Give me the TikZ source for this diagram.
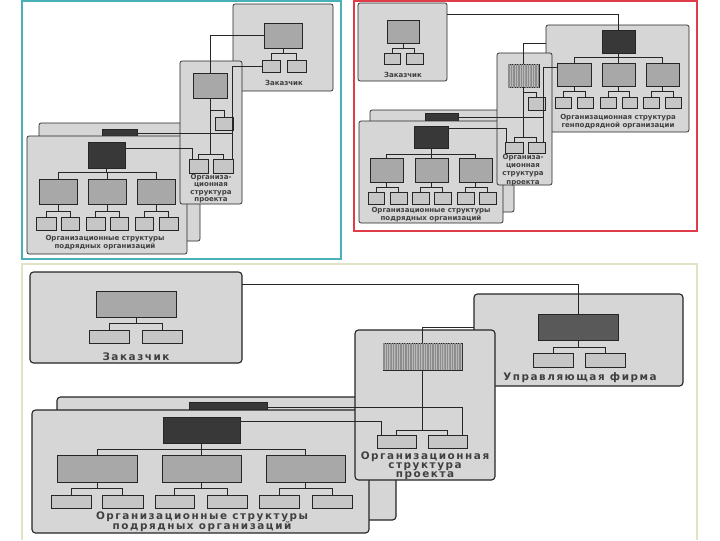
\documentclass[tikz,border=0pt]{standalone}
\usepackage{fontspec}
\usetikzlibrary{patterns.meta}

\newfontfamily\lblfont{DejaVu Sans}
\newfontfamily\widefont{DejaVu Sans}[LetterSpace=15]

\definecolor{boxgray}{HTML}{D6D6D6}
\definecolor{midgray}{HTML}{A8A8A8}
\definecolor{leafgray}{HTML}{C6C6C6}
\definecolor{inkgray}{HTML}{383838}
\definecolor{frameteal}{HTML}{4AB0B8}
\definecolor{framered}{HTML}{E03C4B}
\definecolor{framepale}{HTML}{E2E2C4}

\tikzset{
  pane/.style={draw=black!85, fill=boxgray, rounded corners=1.5pt, line width=0.5pt, inner sep=0pt, outer sep=0pt},
  blk/.style={draw=black!85, line width=0.45pt, inner sep=0pt, outer sep=0pt},
  midblk/.style={blk, fill=midgray},
  leafblk/.style={blk, fill=leafgray},
  darkblk/.style={blk, fill=inkgray},
  hatchblk/.style={blk, fill=gray!55, postaction={pattern={Lines[angle=90,distance=1.2pt,line width=0.35pt]}, pattern color=black!45}},
  link/.style={draw=black!85, line width=0.45pt},
  pane3/.style={pane, line width=0.8pt, rounded corners=2.5pt},
  blk3/.style={line width=0.7pt},
  link3/.style={link, line width=0.6pt},
  lbl/.style={font=\lblfont\bfseries\fontsize{5}{5.8}\selectfont, text=black!75, align=center, inner sep=0pt},
  lbl3/.style={font=\widefont\bfseries\fontsize{7.4}{7.3}\selectfont, text=black!75, align=center, inner sep=0pt}
}

% block from its corners: name, style, x1, y1, x2, y2
\newcommand{\blk}[6]{\node[#2, minimum width={(#5-#3)*0.025cm}, minimum height={(#6-#4)*0.025cm}] (#1) at ({(#3+#5)/2},{(#4+#6)/2}) {};}

\begin{document}
\begin{tikzpicture}[x=0.025cm, y=-0.025cm]

\useasboundingbox[fill=white] (0,0) rectangle (720,540);

% ---- top left ----
\draw[frameteal, line width=1.2pt] (22,1) rectangle (341,259);

\blk{s1back}{pane}{39}{123}{200}{241}
\blk{s1bk}{darkblk}{102}{129}{137}{137}
\blk{s1box}{pane}{27}{136}{187}{254}
\blk{s1top}{darkblk}{88}{142}{125}{168}
\blk{s1m1}{midblk}{39}{179}{77}{204}
\blk{s1m2}{midblk}{88}{179}{126}{204}
\blk{s1m3}{midblk}{137}{179}{175}{204}
\blk{s1l1}{leafblk}{36}{217}{56}{230}
\blk{s1l2}{leafblk}{61}{217}{79}{230}
\blk{s1l3}{leafblk}{86}{217}{105}{230}
\blk{s1l4}{leafblk}{110}{217}{128}{230}
\blk{s1l5}{leafblk}{135}{217}{153}{230}
\blk{s1l6}{leafblk}{159}{217}{178}{230}
\foreach \m in {s1m1,s1m2,s1m3}
  \draw[link] (s1top.south) -- ++(0,4) -| (\m.north);
\foreach \m/\a/\b in {s1m1/s1l1/s1l2, s1m2/s1l3/s1l4, s1m3/s1l5/s1l6} {
  \draw[link] (\m.south) -- ++(0,7) -| (\a.north);
  \draw[link] (\m.south) ++(0,7) -| (\b.north);
}
\node[lbl] (s1txt) at (105,243) {Организационные структуры\\подрядных организаций};

\blk{c1box}{pane}{233}{4}{333}{91}
\blk{c1top}{midblk}{264}{23}{302}{48}
\blk{c1l1}{leafblk}{262}{60}{280}{72}
\blk{c1l2}{leafblk}{287}{60}{306}{72}
\foreach \l in {c1l1,c1l2}
  \draw[link] (c1top.south) -- ++(0,5) -| (\l.north);
\node[lbl] (c1txt) at (284,83) {Заказчик};

\blk{p1box}{pane}{180}{61}{242}{204}
\blk{p1top}{midblk}{193}{73}{227}{98}
\blk{p1sm}{leafblk}{215}{117}{233}{130}
\blk{p1l1}{leafblk}{189}{159}{208}{173}
\blk{p1l2}{leafblk}{213}{159}{233}{173}
\foreach \l in {p1l1,p1l2}
  \draw[link] (p1top.south) -- ++(0,56) -| (\l.north);
\draw[link] (p1top.south) ++(0,12) -| (p1sm.north);
\node[lbl, font=\lblfont\bfseries\fontsize{5}{5.2}\selectfont] (p1txt) at (211,188.5) {Организа-\\ционная\\структура\\проекта};

\coordinate (p1v) at ([xshift=-0.6pt]p1l2.north east);
\draw[link] (p1top.north) |- (c1top.west);
\draw[link] (c1l1.west) -| (p1v);
\draw[link] (s1bk.east) -- (s1bk.east -| p1v);
\draw[link] (s1top.north east) ++(0,6) -| ([xshift=2pt]p1l1.north west);

% ---- top right ----
\draw[framered, line width=1.2pt] (354,1) rectangle (697,231);

\blk{s2back}{pane}{370}{110}{514}{212}
\blk{s2bk}{darkblk}{425}{113}{458}{122}
\blk{s2box}{pane}{359}{121}{503}{223}
\blk{s2top}{darkblk}{414}{126}{448}{148}
\blk{s2m1}{midblk}{370}{158}{403}{182}
\blk{s2m2}{midblk}{415}{158}{448}{182}
\blk{s2m3}{midblk}{459}{158}{492}{182}
\blk{s2l1}{leafblk}{368}{192}{384}{204}
\blk{s2l2}{leafblk}{390}{192}{407}{204}
\blk{s2l3}{leafblk}{412}{192}{429}{204}
\blk{s2l4}{leafblk}{434}{192}{451}{204}
\blk{s2l5}{leafblk}{457}{192}{474}{204}
\blk{s2l6}{leafblk}{479}{192}{496}{204}
\foreach \m in {s2m1,s2m2,s2m3}
  \draw[link] (s2top.south) -- ++(0,6) -| (\m.north);
\foreach \m/\a/\b in {s2m1/s2l1/s2l2, s2m2/s2l3/s2l4, s2m3/s2l5/s2l6} {
  \draw[link] (\m.south) -- ++(0,5) -| (\a.north);
  \draw[link] (\m.south) ++(0,5) -| (\b.north);
}
\node[lbl] (s2txt) at (431,215) {Организационные структуры\\подрядных организаций};

\blk{c2box}{pane}{358}{3}{447}{81}
\blk{c2top}{midblk}{387}{20}{419}{43}
\blk{c2l1}{leafblk}{384}{53}{400}{64}
\blk{c2l2}{leafblk}{406}{53}{423}{64}
\foreach \l in {c2l1,c2l2}
  \draw[link] (c2top.south) -- ++(0,5) -| (\l.north);
\node[lbl] (c2txt) at (403,75) {Заказчик};

\blk{g2box}{pane}{546}{25}{689}{132}
\blk{g2top}{darkblk}{602}{30}{635}{53}
\blk{g2m1}{midblk}{557}{63}{591}{86}
\blk{g2m2}{midblk}{602}{63}{635}{86}
\blk{g2m3}{midblk}{646}{63}{679}{86}
\blk{g2l1}{leafblk}{555}{97}{571}{108}
\blk{g2l2}{leafblk}{577}{97}{593}{108}
\blk{g2l3}{leafblk}{600}{97}{616}{108}
\blk{g2l4}{leafblk}{622}{97}{637}{108}
\blk{g2l5}{leafblk}{643}{97}{659}{108}
\blk{g2l6}{leafblk}{665}{97}{681}{108}
\foreach \m in {g2m1,g2m2,g2m3}
  \draw[link] (g2top.south) -- ++(0,4) -| (\m.north);
\foreach \m/\a/\b in {g2m1/g2l1/g2l2, g2m2/g2l3/g2l4, g2m3/g2l5/g2l6} {
  \draw[link] (\m.south) -- ++(0,5) -| (\a.north);
  \draw[link] (\m.south) ++(0,5) -| (\b.north);
}
\node[lbl] (g2txt) at (618,121.5) {Организационная структура\\генподрядной организации};

\blk{p2box}{pane}{497}{53}{552}{185}
\blk{p2top}{hatchblk}{508}{64}{539}{87}
\blk{p2sm}{leafblk}{528}{97}{545}{110}
\blk{p2l1}{leafblk}{505}{142}{523}{153}
\blk{p2l2}{leafblk}{528}{142}{545}{153}
\foreach \l in {p2l1,p2l2}
  \draw[link] (p2top.south) -- ++(0,50) -| (\l.north);
\draw[link] (p2top.south) ++(0,5) -| (p2sm.north);
\node[lbl] (p2txt) at (523,170) {Организа-\\ционная\\структура\\проекта};

\coordinate (p2v) at ([xshift=-1pt]p2l2.north east);
\draw[link] (c2box.north east) ++(0,11) -| (g2top.north);
\draw[link] (p2top.north) |- (g2box.west |- 0,43);
\draw[link] (g2m1.north west) ++(0,4) -| (p2v);
\draw[link] (s2bk.east) -- (s2bk.east -| p2v);
\draw[link] (s2top.north east) ++(0,2) -| ([xshift=1pt]p2l1.north west);

% ---- bottom ----
\draw[framepale, line width=1pt] (22,540) |- (697,264) -- (697,540);

\blk{c3box}{pane3}{30}{272}{242}{363}
\blk{c3top}{midblk, blk3}{96}{291}{176}{317}
\blk{c3l1}{leafblk, blk3}{89}{330}{129}{343}
\blk{c3l2}{leafblk, blk3}{142}{330}{182}{343}
\foreach \l in {c3l1,c3l2}
  \draw[link3] (c3top.south) -- ++(0,6) -| (\l.north);
\node[lbl3] (c3txt) at (136,357) {Заказчик};

\blk{m3box}{pane3}{474}{294}{683}{386}
\blk{m3top}{darkblk, blk3, fill=black!65}{538}{314}{618}{340}
\blk{m3l1}{leafblk, blk3}{533}{353}{573}{367}
\blk{m3l2}{leafblk, blk3}{585}{353}{625}{367}
\foreach \l in {m3l1,m3l2}
  \draw[link3] (m3top.south) -- ++(0,7) -| (\l.north);
\node[lbl3] (m3txt) at (580,378) {Управляющая фирма};

\blk{s3back}{pane3}{57}{397}{396}{520}
\blk{s3bk}{darkblk, blk3}{189}{402}{267}{412}
\blk{s3box}{pane3}{32}{410}{369}{533}
\blk{s3top}{darkblk, blk3}{163}{417}{240}{443}
\blk{s3m1}{midblk, blk3}{57}{455}{137}{482}
\blk{s3m2}{midblk, blk3}{162}{455}{241}{482}
\blk{s3m3}{midblk, blk3}{266}{455}{345}{482}
\blk{s3l1}{leafblk, blk3}{51}{495}{91}{508}
\blk{s3l2}{leafblk, blk3}{102}{495}{143}{508}
\blk{s3l3}{leafblk, blk3}{155}{495}{194}{508}
\blk{s3l4}{leafblk, blk3}{207}{495}{247}{508}
\blk{s3l5}{leafblk, blk3}{259}{495}{299}{508}
\blk{s3l6}{leafblk, blk3}{312}{495}{352}{508}
\foreach \m in {s3m1,s3m2,s3m3}
  \draw[link3] (s3top.south) -- ++(0,6) -| (\m.north);
\foreach \m/\a/\b in {s3m1/s3l1/s3l2, s3m2/s3l3/s3l4, s3m3/s3l5/s3l6} {
  \draw[link3] (\m.south) -- ++(0,6) -| (\a.north);
  \draw[link3] (\m.south) ++(0,6) -| (\b.north);
}
\node[lbl3] (s3txt) at (202,522) {Организационные структуры\\подрядных организаций};

\blk{p3box}{pane3}{355}{330}{495}{480}
\blk{p3top}{hatchblk, blk3}{383}{343}{462}{370}
\blk{p3l1}{leafblk, blk3}{377}{435}{416}{448}
\blk{p3l2}{leafblk, blk3}{428}{435}{467}{448}
\foreach \l in {p3l1,p3l2}
  \draw[link3] (p3top.south) -- ++(0,60) -| (\l.north);
\node[lbl3, font=\widefont\bfseries\fontsize{7.4}{6.4}\selectfont] (p3txt) at (425,465.5) {Организационная\\структура\\проекта};

\draw[link3] (c3box.north east) ++(0,12) -| (m3top.north);
\draw[link3] (p3top.north) |- (m3box.west |- 0,327);
\draw[link3] (s3bk.east) -| ([xshift=-3pt]p3l2.north east);
\draw[link3] (s3top.north east) ++(0,4) -| ([xshift=3pt]p3l1.north west);

\end{tikzpicture}
\end{document}
